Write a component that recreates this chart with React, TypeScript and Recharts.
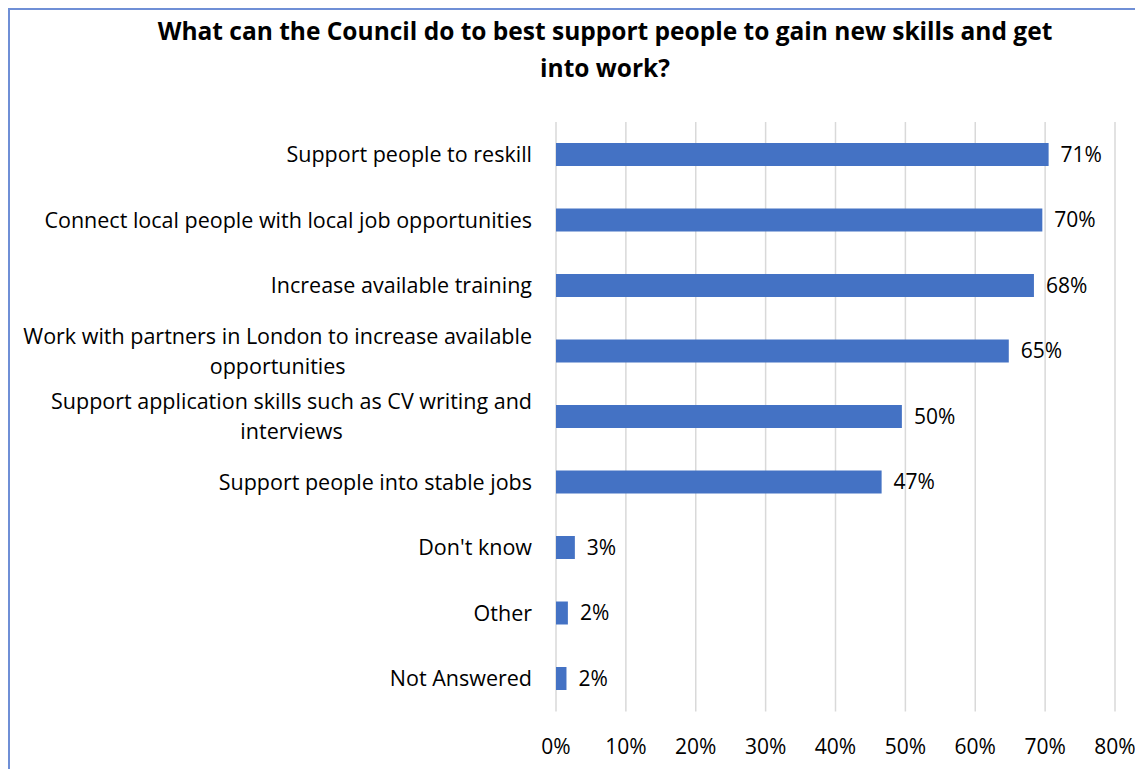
import React from 'react'
import { BarChart, Bar, XAxis, YAxis, CartesianGrid, LabelList } from 'recharts'

const categories = [
  'Support people to reskill',
  'Connect local people with local job opportunities',
  'Increase available training',
  'Work with partners in London to increase available opportunities',
  'Support application skills such as CV writing and interviews',
  'Support people into stable jobs',
  "Don't know",
  'Other',
  'Not Answered',
]
const shares = [70.5, 69.6, 68.4, 64.8, 49.5, 46.6, 2.7, 1.7, 1.5]
const shareLabels = ['71%', '70%', '68%', '65%', '50%', '47%', '3%', '2%', '2%']
const xTicks = [0, 10, 20, 30, 40, 50, 60, 70, 80]

const FONT = 'Open Sans'
const CAT_SIZE = 21.5
const NUM_SIZE = 21

const rows = categories.map((category, i) => ({ category, share: shares[i], label: shareLabels[i] }))

function wrap(text: string, max: number) {
  const out: string[] = []
  let line = ''
  for (const w of text.split(' ')) {
    const next = line ? line + ' ' + w : w
    if (next.length > max && line) {
      out.push(line)
      line = w
    } else line = next
  }
  if (line) out.push(line)
  return out
}

let ctx: CanvasRenderingContext2D | null = null
function measure(s: string) {
  if (!ctx) ctx = document.createElement('canvas').getContext('2d')
  if (!ctx) return s.length * CAT_SIZE * 0.5
  ctx.font = `${CAT_SIZE}px "${FONT}"`
  return ctx.measureText(s).width
}

function CategoryTick({ x, y, payload }: any) {
  const lines = wrap(payload.value, 52)
  const right = x - 24
  if (lines.length === 1) {
    return (
      <text x={right} y={y} dy="0.35em" textAnchor="end" fill="#000" fontFamily={FONT} fontSize={CAT_SIZE}>
        {lines[0]}
      </text>
    )
  }
  const widest = Math.max(...lines.map(measure))
  const cx = right - widest / 2
  return (
    <text textAnchor="middle" fill="#000" fontFamily={FONT} fontSize={CAT_SIZE}>
      {lines.map((l, i) => (
        <tspan key={i} x={cx} y={y + (i - (lines.length - 1) / 2) * 30} dy="0.35em">
          {l}
        </tspan>
      ))}
    </text>
  )
}

export default function App() {
  return (
    <div style={{ position: 'relative', width: 1135, height: 761, overflow: 'hidden', fontFamily: FONT }}>
      <div
        style={{
          position: 'absolute', left: 0, top: 0, width: 1400, height: 900,
          borderLeft: '2px solid #6f8fd6', borderTop: '2px solid #6f8fd6',
        }}
      />
      <div
        style={{
          position: 'absolute', left: 0, top: 4, width: 1194, textAlign: 'center',
          fontWeight: 700, fontSize: 24.5, lineHeight: '37px', color: '#000',
        }}
      >
        What can the Council do to best support people to gain new skills and get
        <br />
        into work?
      </div>
      <div style={{ position: 'absolute', left: 0, top: 0 }}>
        <BarChart
          width={1135}
          height={761}
          data={rows}
          layout="vertical"
          margin={{ top: 114, right: 28, left: 0, bottom: 27.5 }}
          barSize={23}
        >
          <CartesianGrid horizontal={false} stroke="#d9d9d9" strokeWidth={1.5} />
          <XAxis
            type="number"
            domain={[0, 80]}
            ticks={xTicks}
            tickFormatter={(v) => `${v}%`}
            axisLine={false}
            tickLine={false}
            tickSize={0}
            tickMargin={28}
            height={30}
            interval={0}
            tick={{ fill: '#000', fontSize: NUM_SIZE, fontFamily: FONT }}
          />
          <YAxis
            type="category"
            dataKey="category"
            width={548}
            axisLine={false}
            tickLine={false}
            tickSize={0}
            tickMargin={0}
            interval={0}
            tick={<CategoryTick />}
          />
          <Bar dataKey="share" fill="#4472c4" isAnimationActive={false}>
            <LabelList
              dataKey="label"
              position="right"
              offset={12}
              fill="#000"
              fontSize={NUM_SIZE}
              fontFamily={FONT}
            />
          </Bar>
        </BarChart>
      </div>
    </div>
  )
}
